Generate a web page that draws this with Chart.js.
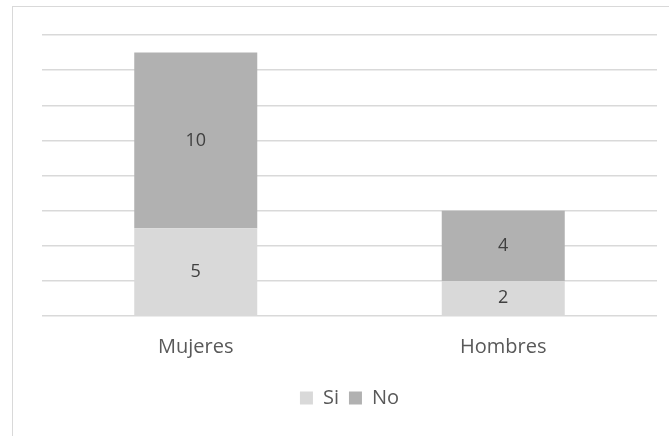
<!DOCTYPE html>
<html lang="es">
<head>
<meta charset="UTF-8">
<title>Si / No</title>
<script src="https://cdn.jsdelivr.net/npm/chart.js@4.4.0/dist/chart.umd.min.js"></script>
<style>
  html, body { margin: 0; padding: 0; background: #fff; overflow: hidden; }
  #frame {
    position: absolute; left: 12px; top: 6px;
    width: 657px; height: 430px;
    border-left: 1px solid #d9d9d9;
    border-top: 1px solid #d9d9d9;
  }
  #wrap { position: relative; width: 656px; height: 429px; }
</style>
</head>
<body>
<div id="frame"><div id="wrap"><canvas id="myChart"></canvas></div></div>
<script>
  // data
  var categories = ["Mujeres", "Hombres"];
  var siValues = [5, 2];
  var noValues = [10, 4];
  var seriesNames = ["Si", "No"];

  var fontFamily = "'Open Sans', 'Noto Sans', sans-serif";

  // writes the value in the middle of every bar segment
  var barLabels = {
    id: "barLabels",
    afterDatasetsDraw: function (chart) {
      var ctx = chart.ctx;
      ctx.save();
      ctx.font = "18px " + fontFamily;
      ctx.fillStyle = "#404040";
      ctx.textAlign = "center";
      ctx.textBaseline = "middle";
      chart.data.datasets.forEach(function (ds, i) {
        chart.getDatasetMeta(i).data.forEach(function (bar, j) {
          var mid = (bar.y + bar.base) / 2;
          ctx.fillText(ds.data[j], bar.x, mid);
        });
      });
      ctx.restore();
    }
  };

  var ctx = document.getElementById("myChart").getContext("2d");
  var myChart = new Chart(ctx, {
    type: "bar",
    data: {
      labels: categories,
      datasets: [
        { label: seriesNames[0], data: siValues, backgroundColor: "#d9d9d9" },
        { label: seriesNames[1], data: noValues, backgroundColor: "#b1b1b1" }
      ]
    },
    options: {
      responsive: true,
      maintainAspectRatio: false,
      animation: false,
      layout: { padding: { left: 29, right: 12, top: 28, bottom: 18 } },
      datasets: { bar: { categoryPercentage: 0.4, barPercentage: 1 } },
      scales: {
        x: {
          stacked: true,
          grid: { display: false, drawTicks: false },
          border: { display: false },
          ticks: { color: "#595959", font: { size: 20, family: fontFamily }, padding: 19 },
          afterFit: function (scale) { scale.height = 62; }
        },
        y: {
          stacked: true,
          min: 0,
          max: 16,
          grid: { color: "#d9d9d9", lineWidth: 1.5, drawTicks: false },
          border: { display: false },
          ticks: { display: false, stepSize: 2 }
        }
      },
      plugins: {
        tooltip: { enabled: false },
        legend: {
          position: "bottom",
          labels: {
            color: "#595959",
            font: { size: 20, family: fontFamily },
            boxWidth: 13,
            boxHeight: 13,
            padding: 10
          }
        }
      }
    },
    plugins: [barLabels]
  });
</script>
</body>
</html>
